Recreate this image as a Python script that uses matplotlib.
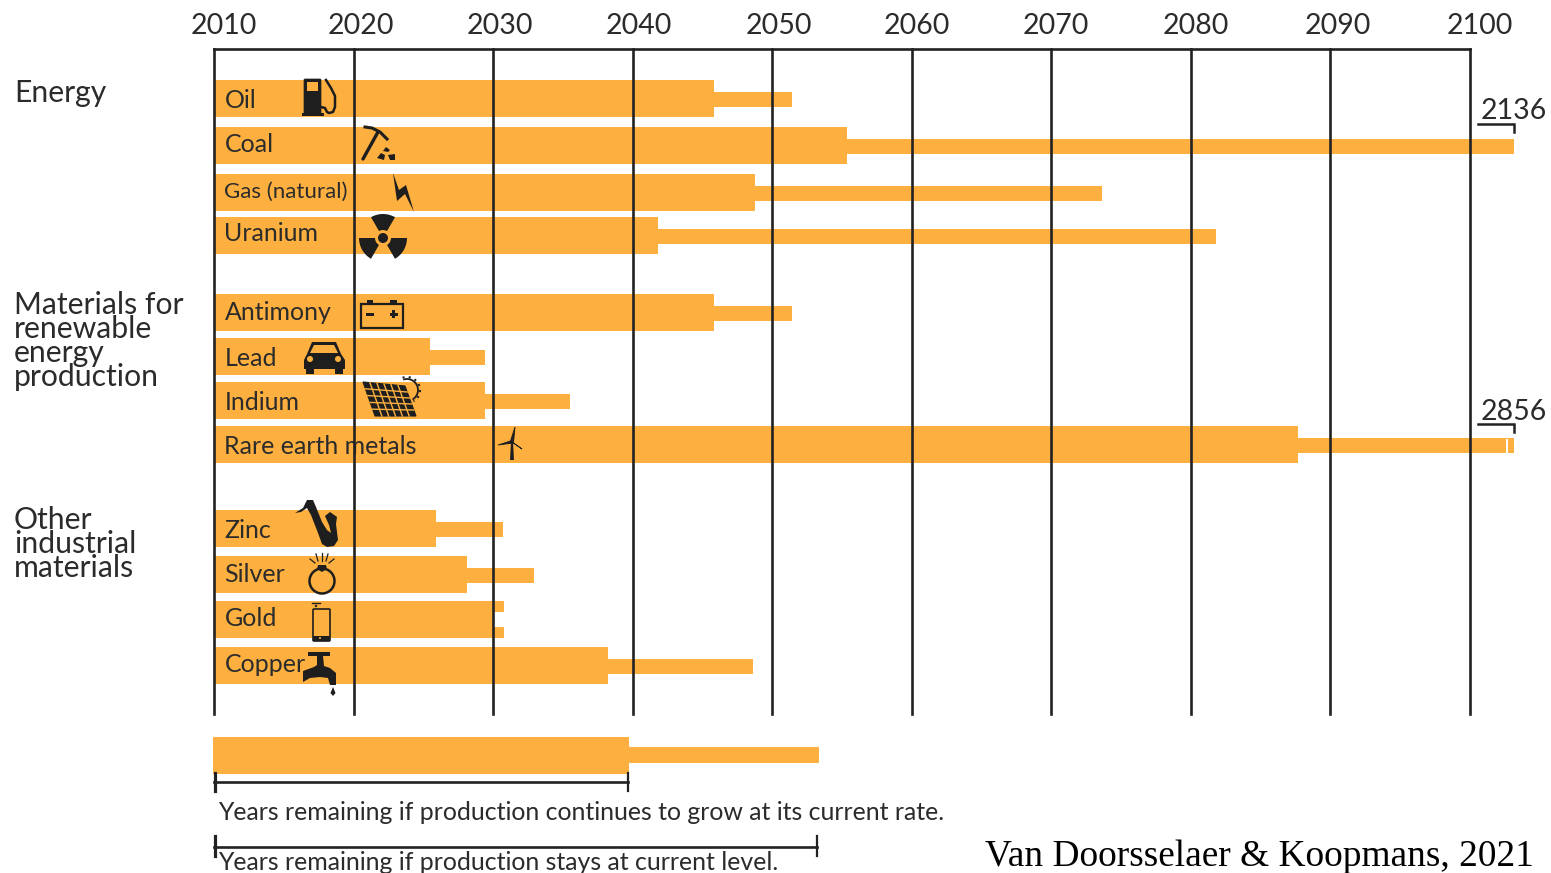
"""Years of remaining reserves per resource, at growing and at constant production."""

import matplotlib

matplotlib.use("Agg")
import matplotlib.pyplot as plt
import numpy as np
from matplotlib.patches import Arc, Circle, FancyBboxPatch, Polygon, Rectangle, Wedge
from matplotlib.transforms import ScaledTranslation

WIDTH, HEIGHT = 1551, 873
ORANGE = "#FDB03F"
INK = "#2B2B2B"
LINE = "#222222"
ICON = "#1E1E1E"

YEARS = [2010, 2020, 2030, 2040, 2050, 2060, 2070, 2080, 2090, 2100]
RESOURCES = ["Oil", "Coal", "Gas (natural)", "Uranium",
             "Antimony", "Lead", "Indium", "Rare earth metals",
             "Zinc", "Silver", "Gold", "Copper"]
# year the reserves run out if production keeps growing
GROWTH_END = [2045.8, 2055.35, 2048.8, 2041.8,
              2045.8, 2025.5, 2029.4, 2087.7,
              2025.9, 2028.1, 2030.75, 2038.2]
# year the reserves run out if production stays at the current level
FLAT_END = [2051.4, 2136, 2073.6, 2081.8,
            2051.4, 2029.45, 2035.5, 2856,
            2030.7, 2032.9, 2030.75, 2048.6]
AXIS_CAP = 2103.15
LEGEND_GROWTH_END = 2039.8
LEGEND_FLAT_END = 2053.4

ROW_CENTRES = [98.5, 145.5, 192.5, 235.5, 312.5, 356.5, 400.5, 444.5, 528.5, 574.5, 619.5, 665.5]
LABEL_SHIFT = [2.5, -0.5, -0.5, -2, 0.5, 1.5, 1.5, 2.5, 1.5, -0.5, -0.5, -0.5]
TICK_LABEL_SHIFT = [10, 7, 7, 6, 7, 5, 4, 5, 7, 10]
GROUPS = [("Energy", 93), ("Materials for\nrenewable\nenergy\nproduction", 341),
          ("Other\nindustrial\nmaterials", 544)]


def draw_icons(ov):
    # fuel pump
    ov.add_patch(FancyBboxPatch((305, 80), 15, 33, boxstyle="round,pad=1", fc=ICON, ec=ICON, lw=0.5))
    ov.add_patch(Rectangle((307, 82), 11, 9, fc=ORANGE, ec="none"))
    ov.add_patch(Rectangle((302, 113), 22, 3, fc=ICON, ec="none"))
    ov.plot([321, 325, 327, 329, 333, 335, 335, 331, 326], [107, 108, 112, 113, 112, 107, 96, 88, 80],
            color=ICON, lw=1.8)
    # pick and rocks
    ov.plot([363, 378], [159, 132], color=ICON, lw=2.4, solid_capstyle="round")
    ov.plot([365, 372, 380, 387], [127, 128, 132, 139], color=ICON, lw=2.2)
    for pts in ([(377, 158), (381, 153), (385, 155), (384, 160)],
                [(388, 155), (395, 154), (395, 160), (390, 160)],
                [(383, 151), (386, 147), (390, 150), (388, 152)]):
        ov.add_patch(Polygon(pts, fc=ICON, ec="none"))
    # lightning bolt
    ov.add_patch(Polygon([(393, 173), (399, 190), (406, 185), (414, 212), (405, 194), (397, 201)],
                         fc=ICON, ec="none"))
    # radiation sign
    for a, b in ((240, 300), (120, 180), (0, 60)):
        ov.add_patch(Wedge((383, 238), 24, a, b, width=16, fc=ICON, ec="none"))
    ov.add_patch(Circle((383, 238), 5, fc=ICON, ec="none"))
    # battery
    ov.add_patch(Rectangle((360.5, 304), 42, 24, fc="none", ec=ICON, lw=1.6))
    ov.add_patch(Rectangle((367, 300), 6, 4, fc=ICON, ec="none"))
    ov.add_patch(Rectangle((390, 300), 7, 4, fc=ICON, ec="none"))
    ov.add_patch(Rectangle((366, 312.5), 8, 3, fc=ICON, ec="none"))
    ov.add_patch(Rectangle((389.5, 312.5), 8, 3, fc=ICON, ec="none"))
    ov.add_patch(Rectangle((392, 310), 3, 8, fc=ICON, ec="none"))
    # car
    ov.add_patch(Polygon([(304, 360), (307, 354), (312, 342), (336, 342), (341, 354), (345, 360),
                          (345, 369), (304, 369)], fc=ICON, ec="none"))
    ov.add_patch(Polygon([(310, 353), (314, 345), (334, 345), (338, 353)], fc=ORANGE, ec="none"))
    ov.add_patch(Rectangle((306, 368), 8, 6, fc=ICON, ec="none"))
    ov.add_patch(Rectangle((335, 368), 8, 6, fc=ICON, ec="none"))
    ov.add_patch(Circle((310, 359), 3, fc=ORANGE, ec="none"))
    ov.add_patch(Circle((338, 359), 3, fc=ORANGE, ec="none"))
    # solar panel with sun
    corners = np.array([(363, 382), (405, 386), (416, 416), (375, 416)], dtype=float)
    ov.add_patch(Polygon(corners, fc=ICON, ec=ICON, lw=0.8))
    for t in np.linspace(0, 1, 7)[1:-1]:
        a = corners[0] + t * (corners[1] - corners[0])
        b = corners[3] + t * (corners[2] - corners[3])
        ov.plot([a[0], b[0]], [a[1], b[1]], color=ORANGE, lw=1)
    for t in np.linspace(0, 1, 6)[1:-1]:
        a = corners[0] + t * (corners[3] - corners[0])
        b = corners[1] + t * (corners[2] - corners[1])
        ov.plot([a[0], b[0]], [a[1], b[1]], color=ORANGE, lw=1)
    ov.add_patch(Arc((407, 390), 22, 22, theta1=-110, theta2=60, color=ICON, lw=1.3))
    ov.add_patch(Arc((407, 390), 26, 26, theta1=-110, theta2=60, color=ICON, lw=1.5, ls=(0, (1, 2))))
    # wind turbine
    ov.add_patch(Polygon([(511, 442), (513, 442), (514, 460), (510, 460)], fc=ICON, ec="none"))
    for tip in ((515, 427), (498, 445), (522, 449)):
        ov.add_patch(Polygon([(510.5, 441), (513.5, 443), tip], fc=ICON, ec=ICON, lw=0.6))
    # saxophone
    ov.add_patch(Polygon([(295, 513), (303, 508), (307, 500), (313, 500), (316, 507), (322, 522),
                          (327, 530), (331, 533), (329, 525), (325, 516), (330, 512), (337, 517),
                          (336, 524), (338, 540), (334, 546), (327, 547), (322, 544), (318, 533),
                          (311, 515), (307, 508), (301, 512)], fc=ICON, ec="none"))
    # ring
    ov.add_patch(Circle((322, 581), 12.5, fc="none", ec=ICON, lw=1.8))
    ov.add_patch(Polygon([(318, 565), (326, 565), (327, 569), (322, 572), (317, 569)], fc=ICON, ec="none"))
    for x0, y0, x1, y1 in ((322, 553, 322, 561), (316, 554, 318, 561), (328, 554, 326, 561),
                           (310, 559, 315, 563), (334, 559, 329, 563)):
        ov.plot([x0, x1], [y0, y1], color=ICON, lw=0.9)
    # phone
    ov.add_patch(FancyBboxPatch((314, 610), 15, 30, boxstyle="round,pad=1", fc="none", ec=ICON, lw=1.2))
    ov.add_patch(Rectangle((313, 636), 17, 5, fc=ICON, ec="none"))
    ov.add_patch(Circle((320, 638), 1, fc=ORANGE, ec="none"))
    ov.plot([312, 320], [603, 603], color=ICON, lw=1)
    ov.add_patch(Circle((316, 606), 1.2, fc=ICON, ec="none"))
    # tap
    ov.add_patch(Rectangle((308, 652), 22, 4, fc=ICON, ec="none"))
    ov.add_patch(Polygon([(317, 656), (323, 656), (324, 666), (330, 668), (336, 673), (336, 685),
                          (330, 685), (328, 678), (320, 677), (310, 678), (303, 682), (303, 671),
                          (314, 667), (317, 665)], fc=ICON, ec="none"))
    ov.add_patch(Polygon([(333, 687), (335.5, 693), (333, 696), (330.5, 693)], fc=ICON, ec="none"))


def main():
    fig = plt.figure(figsize=(WIDTH / 100, HEIGHT / 100), dpi=100)
    plt.rcParams["font.family"] = ["Lato", "DejaVu Sans"]

    # main axes spans the year lines, its y unit is one pixel
    ax = fig.add_axes([214 / WIDTH, 1 - 714 / HEIGHT, (1470 - 214) / WIDTH, (714 - 49) / HEIGHT])
    ax.set_xlim(YEARS[0], YEARS[-1])
    ax.set_ylim(714, 49)
    ax.set_yticks([])
    ax.set_xticks(YEARS)
    ax.xaxis.tick_top()
    ax.tick_params(axis="x", length=0, pad=7, labelsize=20.5, labelcolor=INK)
    for label, shift in zip(ax.get_xticklabels(), TICK_LABEL_SHIFT):
        label.set_transform(label.get_transform() + ScaledTranslation(shift / 100, 0, fig.dpi_scale_trans))
    for side in ("left", "right", "bottom"):
        ax.spines[side].set_visible(False)
    ax.spines["top"].set_linewidth(1.9)
    ax.spines["top"].set_color(LINE)
    ax.grid(axis="x", color=LINE, lw=1.9, zorder=3, clip_on=False)
    ax.set_axisbelow(False)

    flat_capped = np.minimum(FLAT_END, AXIS_CAP)
    thin_centres = np.array(ROW_CENTRES) + 1
    ax.barh(thin_centres, flat_capped - YEARS[0], left=YEARS[0], height=14.5, color=ORANGE, clip_on=False, zorder=1)
    ax.barh(ROW_CENTRES, np.array(GROWTH_END) - YEARS[0], left=YEARS[0], height=37.5, color=ORANGE,
            clip_on=False, zorder=1)
    # white notch in the gold bar, white sliver in the rare earth bar
    gold = RESOURCES.index("Gold")
    ax.barh(ROW_CENTRES[gold], GROWTH_END[gold] - 2030.0, left=2030.0, height=14.5, color="white", zorder=1.5)
    rare = RESOURCES.index("Rare earth metals")
    ax.barh(ROW_CENTRES[rare] + 2, 0.15, left=2102.55, height=16, color="white", clip_on=False, zorder=1.5)

    for name, y, shift in zip(RESOURCES, ROW_CENTRES, LABEL_SHIFT):
        size = 16 if name.startswith("Gas") else 18
        ax.text(2010.75, y + shift, name, ha="left", va="center", fontsize=size, color=INK, zorder=2)

    # legend bar under the axes
    ax.barh(755, LEGEND_FLAT_END - YEARS[0], left=YEARS[0] - 0.07, height=16, color=ORANGE, clip_on=False)
    ax.barh(755.5, LEGEND_GROWTH_END - YEARS[0], left=YEARS[0] - 0.07, height=37.5, color=ORANGE, clip_on=False)

    # overlay in pixel coordinates for labels and icons
    ov = fig.add_axes([0, 0, 1, 1], facecolor="none")
    ov.set_xlim(0, WIDTH)
    ov.set_ylim(HEIGHT, 0)
    ov.axis("off")

    for text, y in GROUPS:
        ov.text(14, y, text, ha="left", va="center", fontsize=21.7, linespacing=0.83, color=INK)

    for value, y, text_y in (("2136", 124, 111), ("2856", 424, 412)):
        ov.text(1514, text_y, value, ha="center", va="center", fontsize=20.5, color=INK)
        ov.plot([1478, 1514, 1514], [y, y, y + 8], color=LINE, lw=1.8, solid_joinstyle="miter")

    ov.plot([214, 628], [782, 782], color=LINE, lw=1.9)
    ov.plot([215, 215], [773, 791], color=LINE, lw=2.3)
    ov.plot([628, 628], [773, 791], color=LINE, lw=1.6)
    ov.plot([214, 817], [847, 847], color=LINE, lw=1.9)
    ov.plot([215, 215], [836, 856], color=LINE, lw=2.3)
    ov.plot([817, 817], [836, 856], color=LINE, lw=1.6)
    ov.text(218, 812, "Years remaining if production continues to grow at its current rate.",
            ha="left", va="center", fontsize=17.9, color=INK)
    ov.text(218, 862, "Years remaining if production stays at current level.",
            ha="left", va="center", fontsize=17.9, color=INK)
    ov.text(985, 857, "Van Doorsselaer & Koopmans, 2021", ha="left", va="center",
            fontsize=26.9, color="black", family="Liberation Serif")

    draw_icons(ov)

    fig.savefig("out.png", dpi=100)
    plt.close(fig)


if __name__ == "__main__":
    main()
